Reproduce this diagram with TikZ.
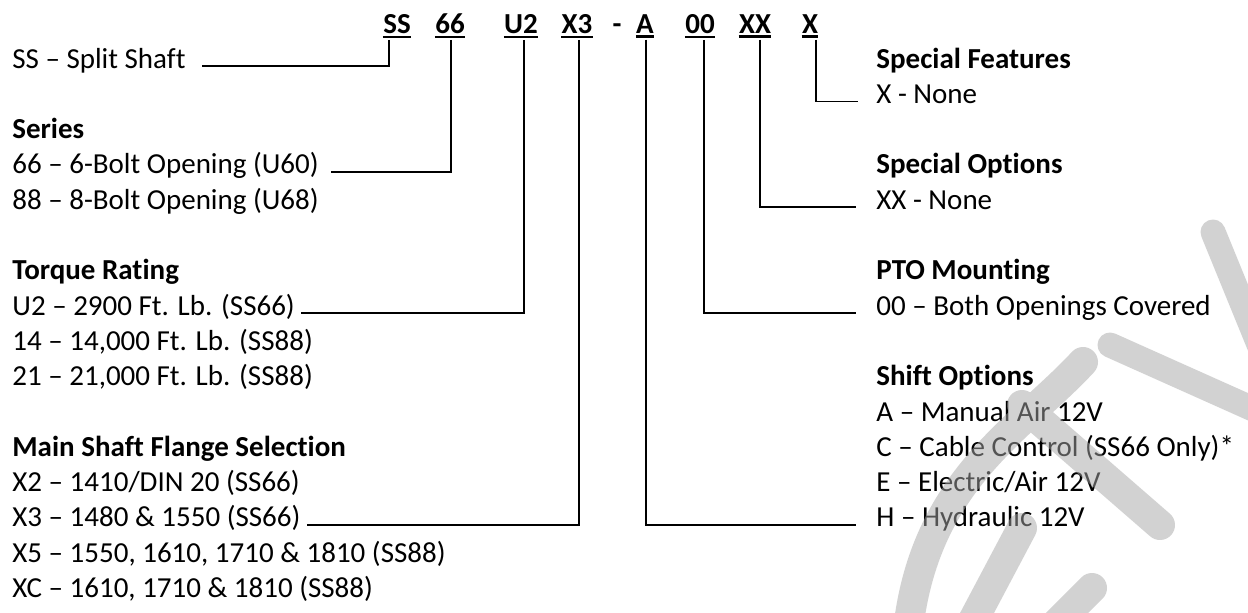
\documentclass[tikz,border=0pt]{standalone}
\usepackage{fontspec}
\setmainfont{Carlito}[Ligatures=NoCommon]
\usepackage{tikz}
\usetikzlibrary{calc}
\tikzset{
  code/.style={font=\bfseries, inner xsep=0pt, inner ysep=1.6pt, anchor=base},
  desc/.style={anchor=base west, inner sep=0pt},
  head/.style={desc, font=\bfseries},
  lead/.style={line width=0.8pt},
  mark band/.style={draw=black!35, opacity=0.5, line cap=round},
}
\begin{document}
\fontsize{14.5}{17.5}\selectfont
\begin{tikzpicture}[x=0.5pt,y=-0.5pt]
\fill[white] (0,0) rectangle (1248,612);
\useasboundingbox (0,0) rectangle (1248,612);
\clip (0,0) rectangle (1248,612);
\foreach \n/\x/\t in {ss/397/SS, c66/450/66, u2/521/U2, x3/577/X3, a/645/A, c00/700/00, xx/755/XX, x/810/X}{
  \node[code] (\n) at (\x,33) {\t};
  \draw[line width=1.3pt] (\n.south west) -- (\n.south east);
}
\node[code, inner ysep=0pt] (dash) at (617,33) {-};
\foreach \k/\s/\t in {0/desc/{SS – Split Shaft}, 2/head/{Series}, 3/desc/{66 – 6-Bolt Opening (U60)}, 4/desc/{88 – 8-Bolt Opening (U68)},
  6/head/{Torque Rating}, 7/desc/{U2 – 2900 Ft. Lb. (SS66)}, 8/desc/{14 – 14,000 Ft. Lb. (SS88)}, 9/desc/{21 – 21,000 Ft. Lb. (SS88)},
  11/head/{Main Shaft Flange Selection}, 12/desc/{X2 – 1410/DIN 20 (SS66)}, 13/desc/{X3 – 1480 \& 1550 (SS66)},
  14/desc/{X5 – 1550, 1610, 1710 \& 1810 (SS88)}, 15/desc/{XC – 1610, 1710 \& 1810 (SS88)}}
  \node[\s] (l\k) at (12,{68+35.3*\k}) {\t};
\foreach \k/\s/\t in {0/head/{Special Features}, 1/desc/{X - None}, 3/head/{Special Options}, 4/desc/{XX - None},
  6/head/{PTO Mounting}, 7/desc/{00 – Both Openings Covered}, 9/head/{Shift Options}, 10/desc/{A – Manual Air 12V},
  11/desc/{C – Cable Control (SS66 Only)*}, 12/desc/{E – Electric/Air 12V}, 13/desc/{H – Hydraulic 12V}}
  \node[\s] (r\k) at (876,{68+35.3*\k}) {\t};
\draw[lead] ([shift={(-4pt,-1.5pt)}]ss.south) |- ([shift={(8pt,1pt)}]l0.base east);
\draw[lead] ([shift={(0.5pt,-1.5pt)}]c66.south) |- ([shift={(6pt,1pt)}]l3.base east);
\draw[lead] ([shift={(1.5pt,-1.5pt)}]u2.south) |- ([shift={(3pt,1pt)}]l7.base east);
\draw[lead] ([shift={(1pt,-1.5pt)}]x3.south) |- ([shift={(3pt,1pt)}]l13.base east);
\draw[lead] ([shift={(0.5pt,-1.5pt)}]a.south) |- ([shift={(-10pt,1pt)}]r13.base west);
\draw[lead] ([shift={(2pt,-1.5pt)}]c00.south) |- ([shift={(-10pt,1pt)}]r7.base west);
\draw[lead] ([shift={(2.5pt,-1.5pt)}]xx.south) |- ([shift={(-10pt,1pt)}]r4.base west);
\draw[lead] ([shift={(3pt,-1.5pt)}]x.south) |- ([shift={(-9pt,1pt)}]r1.base west);
\draw[mark band, line width=12.5pt] (1213,232) -- (1300,445) (1110,345) -- (1300,430);
\draw[mark band, line width=15pt] (1083,362) .. controls (1020,430) and (925,480) .. (908,630)
  (1022,405) -- (1160,525) (968,630) -- (1022,528) (1050,630) -- (1092,588);
\end{tikzpicture}
\end{document}
